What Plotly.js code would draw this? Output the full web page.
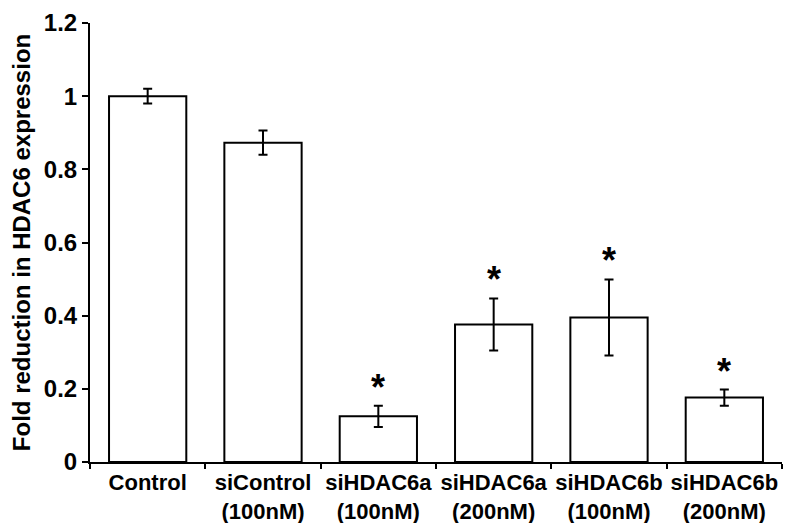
<!DOCTYPE html>
<html>
<head>
<meta charset="utf-8">
<script src="https://cdn.plot.ly/plotly-3.0.1.min.js"></script>
<style>html,body{margin:0;padding:0;background:#fff;}#chart{width:785px;height:523px;}</style>
</head>
<body>
<div id="chart"></div>
<script>
var categories = ["Control<br> ", "siControl<br>(100nM)", "siHDAC6a<br>(100nM)", "siHDAC6a<br>(200nM)", "siHDAC6b<br>(100nM)", "siHDAC6b<br>(200nM)"];
var values = [1.0, 0.873, 0.125, 0.376, 0.395, 0.176];
var errors = [0.02, 0.033, 0.029, 0.071, 0.104, 0.022];
var significant = [false, false, true, true, true, true];
var yTickVals = [0, 0.2, 0.4, 0.6, 0.8, 1.0, 1.2];
var yTickText = ["0", "0.2", "0.4", "0.6", "0.8", "1", "1.2"];

var fontFam = "Arial, 'Liberation Sans', Helvetica, sans-serif";

var trace = {
  type: "bar",
  x: categories,
  y: values,
  width: 0.67,
  marker: {color: "#ffffff", line: {color: "#000000", width: 2}},
  error_y: {type: "data", array: errors, visible: true, color: "#000000", thickness: 2, width: 4.5},
  hoverinfo: "none"
};

var annotations = [];
for (var i = 0; i < categories.length; i++) {
  if (significant[i]) {
    annotations.push({
      x: categories[i], y: values[i] + errors[i], xref: "x", yref: "y",
      text: "*", showarrow: false, yanchor: "bottom", yshift: -4,
      font: {family: fontFam, size: 36, color: "#000", weight: "bold"}
    });
  }
}

var layout = {
  width: 785, height: 523,
  margin: {l: 90, r: 3, t: 23, b: 61},
  paper_bgcolor: "#fff", plot_bgcolor: "#fff",
  showlegend: false,
  font: {family: fontFam, color: "#000", size: 22, weight: "bold"},
  xaxis: {
    type: "category",
    range: [-0.5, 5.5],
    showline: true, linecolor: "#000", linewidth: 2,
    ticks: "outside", ticklen: 5, tickwidth: 2, tickcolor: "#000",
    tickson: "boundaries",
    tickangle: 0,
    showgrid: false, zeroline: false,
    tickfont: {family: fontFam, size: 22, color: "#000", weight: "bold"},
    fixedrange: true
  },
  yaxis: {
    range: [0, 1.2],
    tickvals: yTickVals, ticktext: yTickText,
    showline: true, linecolor: "#000", linewidth: 2,
    ticks: "outside", ticklen: 6, tickwidth: 2, tickcolor: "#000",
    showgrid: false, zeroline: false,
    tickfont: {family: fontFam, size: 24, color: "#000", weight: "bold"},
    title: {text: "Fold reduction in HDAC6 expression", font: {family: fontFam, size: 24, color: "#000", weight: "bold"}, standoff: 6},
    fixedrange: true
  },
  annotations: annotations
};

Plotly.newPlot("chart", [trace], layout, {displayModeBar: false, staticPlot: true});
</script>
</body>
</html>
